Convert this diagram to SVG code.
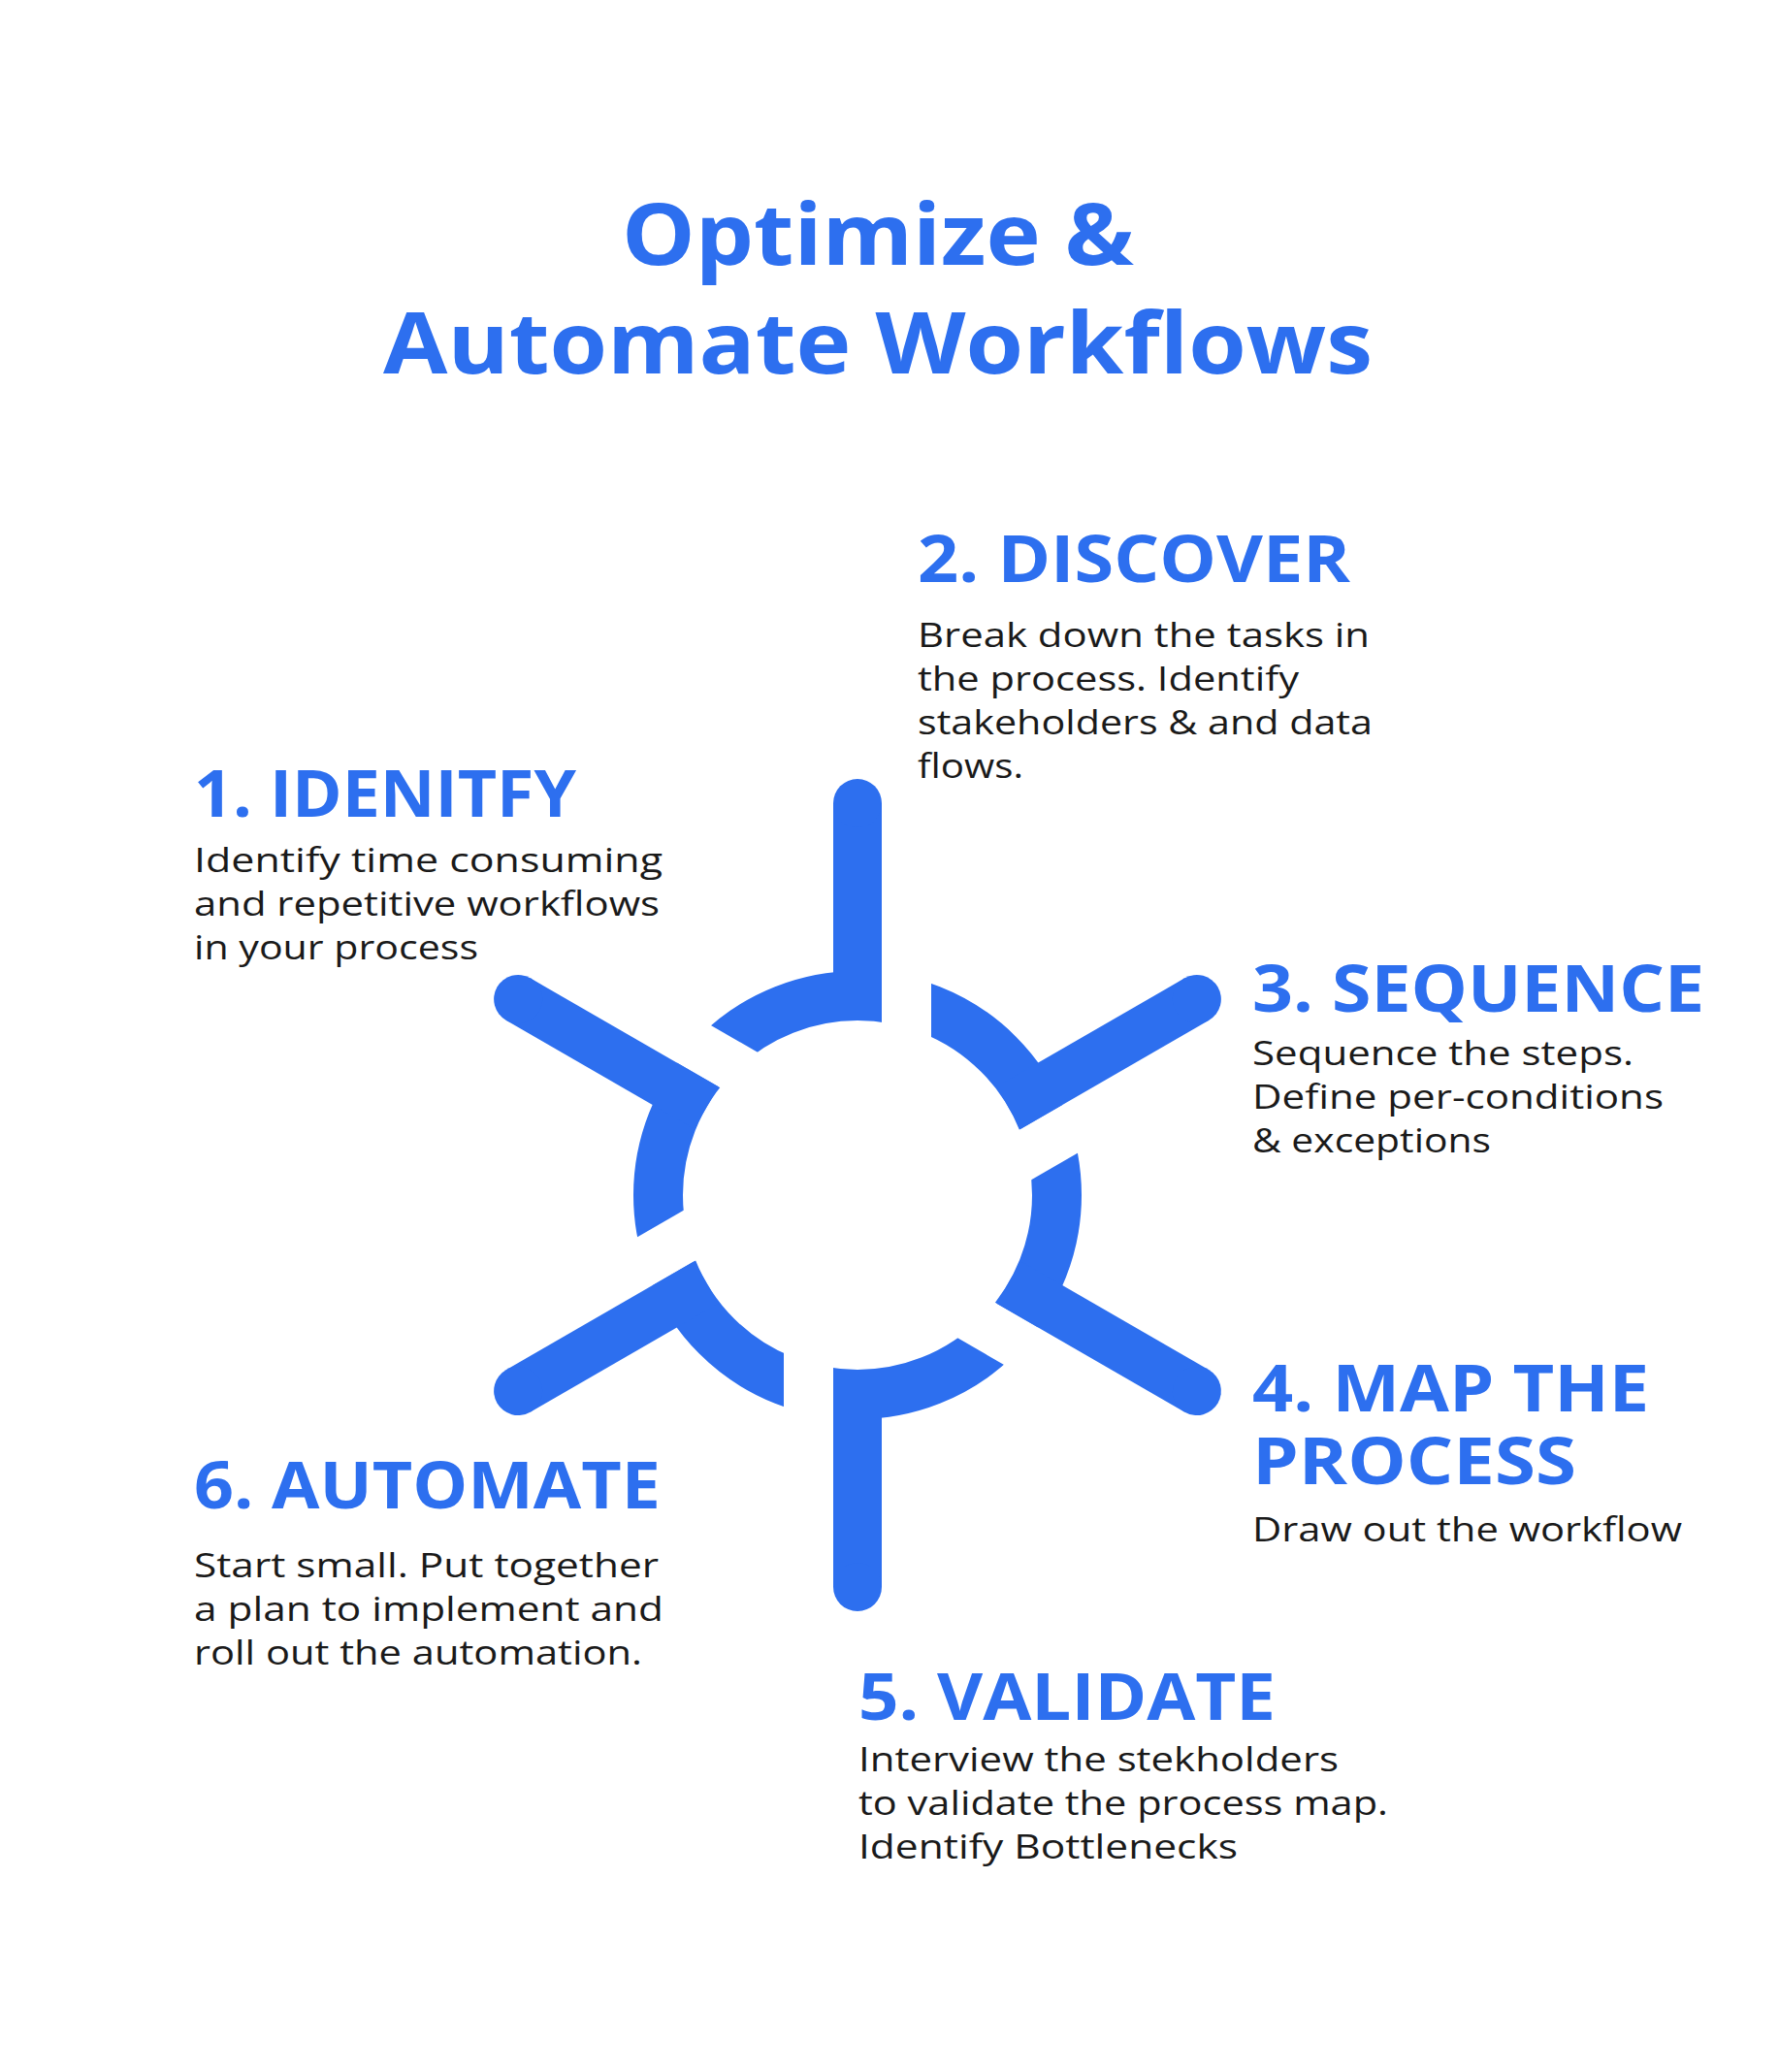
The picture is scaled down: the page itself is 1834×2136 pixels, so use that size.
<svg xmlns="http://www.w3.org/2000/svg" width="1834" height="2136" viewBox="0 0 1834 2136">
<style>
.t{font-family:"Open Sans","Liberation Sans",sans-serif;font-weight:700;fill:#2D6FEF;font-size:88px}
.h{font-family:"Open Sans","Liberation Sans",sans-serif;font-weight:700;fill:#2D6FEF;font-size:66px}
.b{font-family:"Open Sans","Liberation Sans",sans-serif;font-weight:400;fill:#1a1a1a;font-size:34px}
.sp{stroke:#2D6FEF;stroke-width:50;fill:none}
.tip{fill:#2D6FEF}
</style>
<rect width="1834" height="2136" fill="#fff"/>
<g id="title">
<text class="t" x="905" y="273" text-anchor="middle" textLength="528" lengthAdjust="spacingAndGlyphs">Optimize &amp;</text>
<text class="t" x="905" y="385" text-anchor="middle" textLength="1020" lengthAdjust="spacingAndGlyphs">Automate Workflows</text>
</g>
<g id="wheel" transform="translate(884,1232)">
<circle r="205.5" fill="none" stroke="#2D6FEF" stroke-width="51"/>
<g fill="#fff">
<rect x="0" y="25" width="300" height="51" transform="rotate(-90)"/>
<rect x="0" y="25" width="300" height="51" transform="rotate(-30)"/>
<rect x="0" y="25" width="300" height="51" transform="rotate(30)"/>
<rect x="0" y="25" width="300" height="51" transform="rotate(90)"/>
<rect x="0" y="25" width="300" height="51" transform="rotate(150)"/>
<rect x="0" y="25" width="300" height="51" transform="rotate(210)"/>
</g>
<g id="spokes">
<g transform="rotate(-90)"><path class="sp" d="M180 0H404"/><circle class="tip" cx="404" r="25"/></g>
<g transform="rotate(-30)"><path class="sp" d="M180 0H404"/><circle class="tip" cx="404" r="25"/></g>
<g transform="rotate(30)"><path class="sp" d="M180 0H404"/><circle class="tip" cx="404" r="25"/></g>
<g transform="rotate(90)"><path class="sp" d="M180 0H404"/><circle class="tip" cx="404" r="25"/></g>
<g transform="rotate(150)"><path class="sp" d="M180 0H404"/><circle class="tip" cx="404" r="25"/></g>
<g transform="rotate(210)"><path class="sp" d="M180 0H404"/><circle class="tip" cx="404" r="25"/></g>
</g>
</g>
<g id="step1">
<text class="h" x="200" y="842" textLength="394" lengthAdjust="spacingAndGlyphs">1. IDENITFY</text>
<text class="b" x="200" y="899" textLength="483" lengthAdjust="spacingAndGlyphs">Identify time consuming</text>
<text class="b" x="200" y="944" textLength="480" lengthAdjust="spacingAndGlyphs">and repetitive workflows</text>
<text class="b" x="200" y="989" textLength="293" lengthAdjust="spacingAndGlyphs">in your process</text>
</g>
<g id="step2">
<text class="h" x="946" y="600" textLength="446" lengthAdjust="spacingAndGlyphs">2. DISCOVER</text>
<text class="b" x="946" y="667" textLength="466" lengthAdjust="spacingAndGlyphs">Break down the tasks in</text>
<text class="b" x="946" y="712" textLength="393" lengthAdjust="spacingAndGlyphs">the process. Identify</text>
<text class="b" x="946" y="757" textLength="469" lengthAdjust="spacingAndGlyphs">stakeholders &amp; and data</text>
<text class="b" x="946" y="802" textLength="109" lengthAdjust="spacingAndGlyphs">flows.</text>
</g>
<g id="step3">
<text class="h" x="1291" y="1043" textLength="466" lengthAdjust="spacingAndGlyphs">3. SEQUENCE</text>
<text class="b" x="1291" y="1098" textLength="393" lengthAdjust="spacingAndGlyphs">Sequence the steps.</text>
<text class="b" x="1291" y="1143" textLength="424" lengthAdjust="spacingAndGlyphs">Define per-conditions</text>
<text class="b" x="1291" y="1188" textLength="246" lengthAdjust="spacingAndGlyphs">&amp; exceptions</text>
</g>
<g id="step4">
<text class="h" x="1291" y="1455" textLength="409" lengthAdjust="spacingAndGlyphs">4. MAP THE</text>
<text class="h" x="1291" y="1530" textLength="334" lengthAdjust="spacingAndGlyphs">PROCESS</text>
<text class="b" x="1291" y="1589" textLength="443" lengthAdjust="spacingAndGlyphs">Draw out the workflow</text>
</g>
<g id="step5">
<text class="h" x="885" y="1773" textLength="430" lengthAdjust="spacingAndGlyphs">5. VALIDATE</text>
<text class="b" x="885" y="1826" textLength="495" lengthAdjust="spacingAndGlyphs">Interview the stekholders</text>
<text class="b" x="885" y="1871" textLength="546" lengthAdjust="spacingAndGlyphs">to validate the process map.</text>
<text class="b" x="885" y="1916" textLength="391" lengthAdjust="spacingAndGlyphs">Identify Bottlenecks</text>
</g>
<g id="step6">
<text class="h" x="200" y="1555" textLength="481" lengthAdjust="spacingAndGlyphs">6. AUTOMATE</text>
<text class="b" x="200" y="1626" textLength="479" lengthAdjust="spacingAndGlyphs">Start small. Put together</text>
<text class="b" x="200" y="1671" textLength="484" lengthAdjust="spacingAndGlyphs">a plan to implement and</text>
<text class="b" x="200" y="1716" textLength="462" lengthAdjust="spacingAndGlyphs">roll out the automation.</text>
</g>
</svg>
